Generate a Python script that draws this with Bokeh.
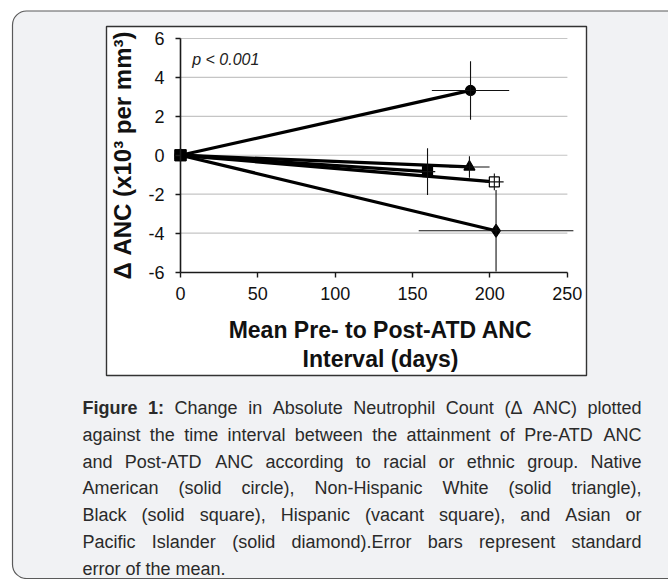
import math
from bokeh.plotting import figure
from bokeh.models import Range1d, FixedTicker, ColumnDataSource
from bokeh.core.properties import value
from bokeh.embed import file_html
from bokeh.resources import INLINE

# ---------------- data ----------------
groups = ["Native American", "Non-Hispanic White", "Black", "Hispanic",
          "Asian or Pacific Islander"]
group_markers = ["circle", "triangle", "square", "square", "diamond"]
group_fills = ["black", "black", "black", "white", "black"]
pre_interval = [0, 0, 0, 0, 0]                 # days (pre-ATD reference point)
pre_delta_anc = [0, 0, 0, 0, 0]
mean_interval = [187.5, 186.8, 159.7, 202.9, 204.0]   # days
delta_anc = [3.33, -0.60, -0.84, -1.37, -3.88]        # x10^3 per mm^3
interval_se = [25.0, 13.0, 5.0, 6.0, 50.0]
anc_se = [1.5, 0.55, 1.2, 0.43, 2.1]

x_ticks = [0, 50, 100, 150, 200, 250]
x_tick_labels = ["0", "50", "100", "150", "200", "250"]
y_ticks = [-6, -4, -2, 0, 2, 4, 6]
y_tick_labels = ["-6", "-4", "-2", "0", "2", "4", "6"]

x_title = ["Mean Pre- to Post-ATD ANC", "Interval (days)"]
y_title = "\u0394 ANC (x10\u00b3 per mm\u00b3)"
p_value_text = "p < 0.001"
caption_lines = [
    "Figure 1: Change in Absolute Neutrophil Count (\u0394 ANC) plotted",
    "against the time interval between the attainment of Pre-ATD ANC",
    "and Post-ATD ANC according to racial or ethnic group. Native",
    "American (solid circle), Non-Hispanic White (solid triangle),",
    "Black (solid square), Hispanic (vacant square), and Asian or",
    "Pacific Islander (solid diamond).Error bars represent standard",
    "error of the mean.",
]
caption_bold_words = 2  # "Figure 1:"

# ---------------- geometry ----------------
W, H = 668, 579
PX_X0, PX_X1 = 180.0, 566.7     # canvas px of first / last x tick
PX_YT, PX_YB = 38.0, 271.5      # canvas px of top / bottom y tick

x_lo, x_hi = x_ticks[0], x_ticks[-1]
y_lo, y_hi = y_ticks[0], y_ticks[-1]
kx = (PX_X1 - PX_X0) / (x_hi - x_lo)
ky = (PX_YB - PX_YT) / (y_hi - y_lo)


def X(px):
    return x_lo + (px - PX_X0) / kx


def Y(py):
    return y_hi - (py - PX_YT) / ky


FONT = "Liberation Sans"

p = figure(width=W, height=H, x_range=Range1d(X(0), X(W)),
           y_range=Range1d(Y(H), Y(0)), output_backend="svg",
           toolbar_location=None, min_border=0, outline_line_color=None,
           border_fill_color="white", background_fill_color="white")
p.grid.visible = False

# outer rounded panel and white chart box
p.quad(left=[X(12)], right=[X(780)], top=[Y(10.5)], bottom=[Y(578)],
       fill_color="#f1f2f4", line_color="#5a5a5a", line_width=1.2,
       border_radius=14)
p.quad(left=[X(106)], right=[X(586)], top=[Y(26)], bottom=[Y(375)],
       fill_color="white", line_color="#333333", line_width=1.4)

# dotted horizontal gridlines
grid_y = [t for t in y_ticks if t > y_lo]
p.segment(x0=[x_lo] * len(grid_y), x1=[x_hi] * len(grid_y), y0=grid_y,
          y1=grid_y, line_color="#8a8a8a", line_width=1.1, line_dash="1 1")

# series lines
p.multi_line(xs=[[a, b] for a, b in zip(pre_interval, mean_interval)],
             ys=[[a, b] for a, b in zip(pre_delta_anc, delta_anc)],
             line_color="black", line_width=3.3)

# markers at the origin (hollow first so solid ones cover it)
order = sorted(range(len(groups)), key=lambda i: group_fills[i] == "black")
for i in order:
    p.scatter(x=[pre_interval[i]], y=[pre_delta_anc[i]],
              marker=group_markers[i], size=11, fill_color=group_fills[i],
              line_color="black", line_width=1.2)
# markers at the mean points
sizes = {"circle": 10, "triangle": 11, "square": 10, "diamond": 13}
for i in range(len(groups)):
    p.scatter(x=[mean_interval[i]], y=[delta_anc[i]],
              marker=group_markers[i], size=sizes[group_markers[i]],
              fill_color=group_fills[i], line_color="black", line_width=1.2)

# error bars (standard error), drawn on top
p.segment(x0=[x - e for x, e in zip(mean_interval, interval_se)],
          x1=[x + e for x, e in zip(mean_interval, interval_se)],
          y0=delta_anc, y1=delta_anc, line_color="#111111", line_width=1.1)
p.segment(x0=mean_interval, x1=mean_interval,
          y0=[y - e for y, e in zip(delta_anc, anc_se)],
          y1=[y + e for y, e in zip(delta_anc, anc_se)],
          line_color="#111111", line_width=1.1)

# axes
xa = p.xaxis[0]
ya = p.yaxis[0]
for ax in (xa, ya):
    ax.axis_line_color = "#1a1a1a"
    ax.axis_line_width = 1.6
    ax.major_tick_line_color = "#1a1a1a"
    ax.major_tick_line_width = 1.4
    ax.major_tick_in = 0
    ax.major_tick_out = 5
    ax.minor_tick_line_color = None
    ax.major_label_text_font = FONT
    ax.major_label_text_font_size = "18px"
    ax.major_label_text_color = "#111111"
xa.fixed_location = y_lo
xa.bounds = (x_lo, x_hi)
xa.ticker = FixedTicker(ticks=x_ticks, minor_ticks=[])
xa.major_label_overrides = {t: s for t, s in zip(x_ticks, x_tick_labels)}
xa.major_label_standoff = 10
ya.fixed_location = x_lo
ya.bounds = (y_lo, y_hi)
ya.ticker = FixedTicker(ticks=y_ticks, minor_ticks=[])
ya.major_label_overrides = {t: s for t, s in zip(y_ticks, y_tick_labels)}
ya.major_label_standoff = 11

# axis titles (positions are text centres)
p.text(x=[X(380)] * 2, y=[Y(329), Y(358)], text=x_title,
       text_font=value(FONT), text_font_style="bold", text_font_size="23px",
       text_align="center", text_baseline="middle", text_color="#111111")
p.text(x=[X(122)], y=[Y(155)], text=[y_title], angle=math.pi / 2,
       text_font=value(FONT), text_font_style="bold", text_font_size="24px",
       text_align="center", text_baseline="middle", text_color="#111111")
p.text(x=[X(191.7)], y=[Y(58.5)], text=[p_value_text], text_font=value(FONT),
       text_font_style="italic", text_font_size="16px", text_align="left",
       text_baseline="middle", text_color="#222222")

# ---------------- caption (justified) ----------------
AW = {' ': 278, '(': 333, ')': 333, ',': 278, '-': 333, '.': 278, ':': 278,
      '\u0394': 668,
      'A': 667, 'B': 667, 'C': 722, 'D': 722, 'E': 667, 'F': 611, 'G': 778,
      'H': 722, 'I': 278, 'J': 500, 'K': 667, 'L': 556, 'M': 833, 'N': 722,
      'O': 778, 'P': 667, 'Q': 778, 'R': 722, 'S': 667, 'T': 611, 'U': 722,
      'V': 667, 'W': 944, 'X': 667, 'Y': 667, 'Z': 611,
      'a': 556, 'b': 556, 'c': 500, 'd': 556, 'e': 556, 'f': 278, 'g': 556,
      'h': 556, 'i': 222, 'j': 222, 'k': 500, 'l': 222, 'm': 833, 'n': 556,
      'o': 556, 'p': 556, 'q': 556, 'r': 333, 's': 500, 't': 278, 'u': 556,
      'v': 500, 'w': 722, 'x': 500, 'y': 500, 'z': 500}
BW = {'F': 611, 'i': 278, 'g': 611, 'u': 611, 'r': 389, 'e': 556, ' ': 278,
      '1': 556, ':': 333}


def tw(s, bold, size):
    tab = BW if bold else AW
    return sum(tab.get(c, 556) for c in s) * size / 1000.0


CAP_SIZE = 18
CAP_LEFT, CAP_RIGHT = 82.0, 641.0
CAP_MID0, CAP_STEP = 407.5, 26.8

reg = dict(x=[], y=[], text=[])
bold = dict(x=[], y=[], text=[])
for li, line in enumerate(caption_lines):
    words = line.split(" ")
    flags = [(li == 0 and wi < caption_bold_words) for wi in range(len(words))]
    widths = [tw(w, f, CAP_SIZE) for w, f in zip(words, flags)]
    space = AW[' '] * CAP_SIZE / 1000.0
    justify = li < len(caption_lines) - 1
    gap = space
    if justify and len(words) > 1:
        gap = max(space, (CAP_RIGHT - CAP_LEFT - sum(widths)) / (len(words) - 1))
    xpos = CAP_LEFT
    mid = CAP_MID0 + li * CAP_STEP
    for w, f, wd in zip(words, flags, widths):
        d = bold if f else reg
        d["x"].append(X(xpos))
        d["y"].append(Y(mid))
        d["text"].append(w)
        xpos += wd + gap

p.text(x="x", y="y", text="text", source=ColumnDataSource(reg),
       text_font=value(FONT), text_font_size="18px", text_align="left",
       text_baseline="middle", text_color="#2a2a2a")
p.text(x="x", y="y", text="text", source=ColumnDataSource(bold),
       text_font=value(FONT), text_font_style="bold", text_font_size="18px",
       text_align="left", text_baseline="middle", text_color="#2a2a2a")

open("out.html", "w").write(file_html(p, INLINE))
